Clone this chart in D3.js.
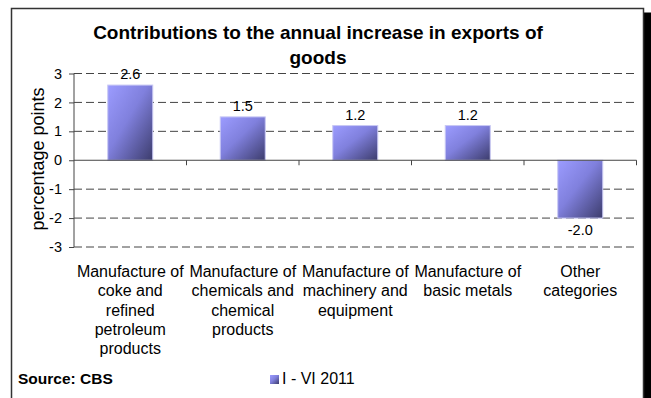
<!DOCTYPE html>
<html>
<head>
<meta charset="utf-8">
<script src="https://cdnjs.cloudflare.com/ajax/libs/d3/7.8.5/d3.min.js"></script>
<style>
  html, body { margin: 0; padding: 0; background: #fff; }
  svg { display: block; }
  text { font-family: "Liberation Sans", Arial, sans-serif; fill: #000; }
</style>
</head>
<body>
<svg id="chart" width="651" height="398"></svg>
<script>
// Contributions to the annual increase in exports of goods (percentage points)
const categories = [
  ["Manufacture of", "coke and", "refined", "petroleum", "products"],
  ["Manufacture of", "chemicals and", "chemical", "products"],
  ["Manufacture of", "machinery and", "equipment"],
  ["Manufacture of", "basic metals"],
  ["Other", "categories"]
];
const values = [2.6, 1.5, 1.2, 1.2, -2.0];
const yTicks = [-3, -2, -1, 0, 1, 2, 3];
const seriesName = "I - VI 2011";
const titleLines = ["Contributions to the annual increase in exports of", "goods"];
const yTitle = "percentage points";
const sourceText = "Source: CBS";

const FONT = "'Liberation Sans', Arial, sans-serif";
const svg = d3.select("#chart");
const W = 651, H = 398;

const plot = { left: 74, right: 636.5, top: 73.5, bottom: 247 };

const x = d3.scaleBand()
  .domain(d3.range(values.length))
  .range([plot.left, plot.right])
  .paddingInner(0.6)
  .paddingOuter(0.3);
const xOuter = d3.scaleBand()
  .domain(d3.range(values.length))
  .range([plot.left, plot.right]);
const y = d3.scaleLinear().domain([-3, 3]).range([plot.bottom, plot.top]);

// drop shadow + frame
svg.append("rect").attr("x", 15).attr("y", 12.5).attr("width", W - 15).attr("height", H)
  .attr("fill", "#000");
svg.append("rect").attr("x", 11.5).attr("y", 8.5).attr("width", 632).attr("height", H)
  .attr("fill", "#fff").attr("stroke", "#333").attr("stroke-width", 1.5);

// bar gradient
const defs = svg.append("defs");
const grad = defs.append("linearGradient").attr("id", "barGrad")
  .attr("x1", "0%").attr("y1", "0%").attr("x2", "100%").attr("y2", "100%");
grad.append("stop").attr("offset", "0%").attr("stop-color", "#9c9cff");
grad.append("stop").attr("offset", "45%").attr("stop-color", "#8080dd");
grad.append("stop").attr("offset", "100%").attr("stop-color", "#3c3c6c");

// dashed gridlines
svg.append("g").selectAll("line").data(yTicks.filter(d => d !== 0)).join("line")
  .attr("x1", plot.left).attr("x2", plot.right)
  .attr("y1", d => y(d)).attr("y2", d => y(d))
  .attr("stroke", "#444").attr("stroke-width", 1)
  .attr("stroke-dasharray", "8,4");

// bars
svg.append("g").selectAll("rect").data(values).join("rect")
  .attr("x", (d, i) => x(i))
  .attr("width", x.bandwidth())
  .attr("y", d => y(Math.max(0, d)))
  .attr("height", d => Math.abs(y(d) - y(0)))
  .attr("fill", "url(#barGrad)")
  .attr("stroke", "#c8c8f4").attr("stroke-width", 1);

// y axis (plain hyphen for negatives)
const yAxis = d3.axisLeft(y).tickValues(yTicks).tickSize(5).tickPadding(7).tickFormat(d => String(d));
const gy = svg.append("g").attr("transform", `translate(${plot.left},0)`).call(yAxis);
gy.select(".domain").attr("stroke", "#444").attr("d", `M0,${plot.top}V${plot.bottom}`);
gy.selectAll(".tick line").attr("stroke", "#444");
gy.selectAll("text").attr("font-size", 14.5).attr("font-family", FONT).attr("fill", "#000");

// x axis along zero
const xAxis = d3.axisBottom(xOuter).tickSize(0).tickFormat("");
const gx = svg.append("g").attr("transform", `translate(0,${y(0)})`).call(xAxis);
gx.select(".domain").attr("stroke", "#444").attr("d", `M${plot.left},0H${plot.right}`);
gx.selectAll(".tick").remove();
svg.append("g").selectAll("line").data(d3.range(1, values.length + 1)).join("line")
  .attr("x1", i => plot.left + i * xOuter.step()).attr("x2", i => plot.left + i * xOuter.step())
  .attr("y1", y(0)).attr("y2", y(0) + 5)
  .attr("stroke", "#444");

// value labels
svg.append("g").selectAll("text").data(values).join("text")
  .attr("x", (d, i) => x(i) + x.bandwidth() / 2)
  .attr("y", d => d >= 0 ? y(d) - 6 : y(d) + 17)
  .attr("text-anchor", "middle").attr("font-size", 14.5)
  .text(d => d.toFixed(1));

// category labels
const cat = svg.append("g").selectAll("text").data(categories).join("text")
  .attr("text-anchor", "middle").attr("font-size", 16)
  .attr("transform", (d, i) => `translate(${xOuter(i) + xOuter.bandwidth() / 2},277)`);
cat.selectAll("tspan").data(d => d).join("tspan")
  .attr("x", 0).attr("dy", (d, j) => j === 0 ? 0 : 19.3).text(d => d);

// title
svg.append("text").attr("text-anchor", "middle").attr("font-size", 19).attr("font-weight", "bold")
  .selectAll("tspan").data(titleLines).join("tspan")
  .attr("x", 318).attr("y", (d, i) => 39 + i * 25).text(d => d);

// y axis title
svg.append("text").attr("text-anchor", "middle").attr("font-size", 18)
  .attr("transform", `translate(44,159) rotate(-90)`).text(yTitle);

// source
svg.append("text").attr("x", 18).attr("y", 384).attr("font-size", 15.5).attr("font-weight", "bold")
  .text(sourceText);

// legend
svg.append("rect").attr("x", 270).attr("y", 375).attr("width", 9).attr("height", 9)
  .attr("fill", "url(#barGrad)");
svg.append("text").attr("x", 282).attr("y", 384).attr("font-size", 16).text(seriesName);
</script>
</body>
</html>
